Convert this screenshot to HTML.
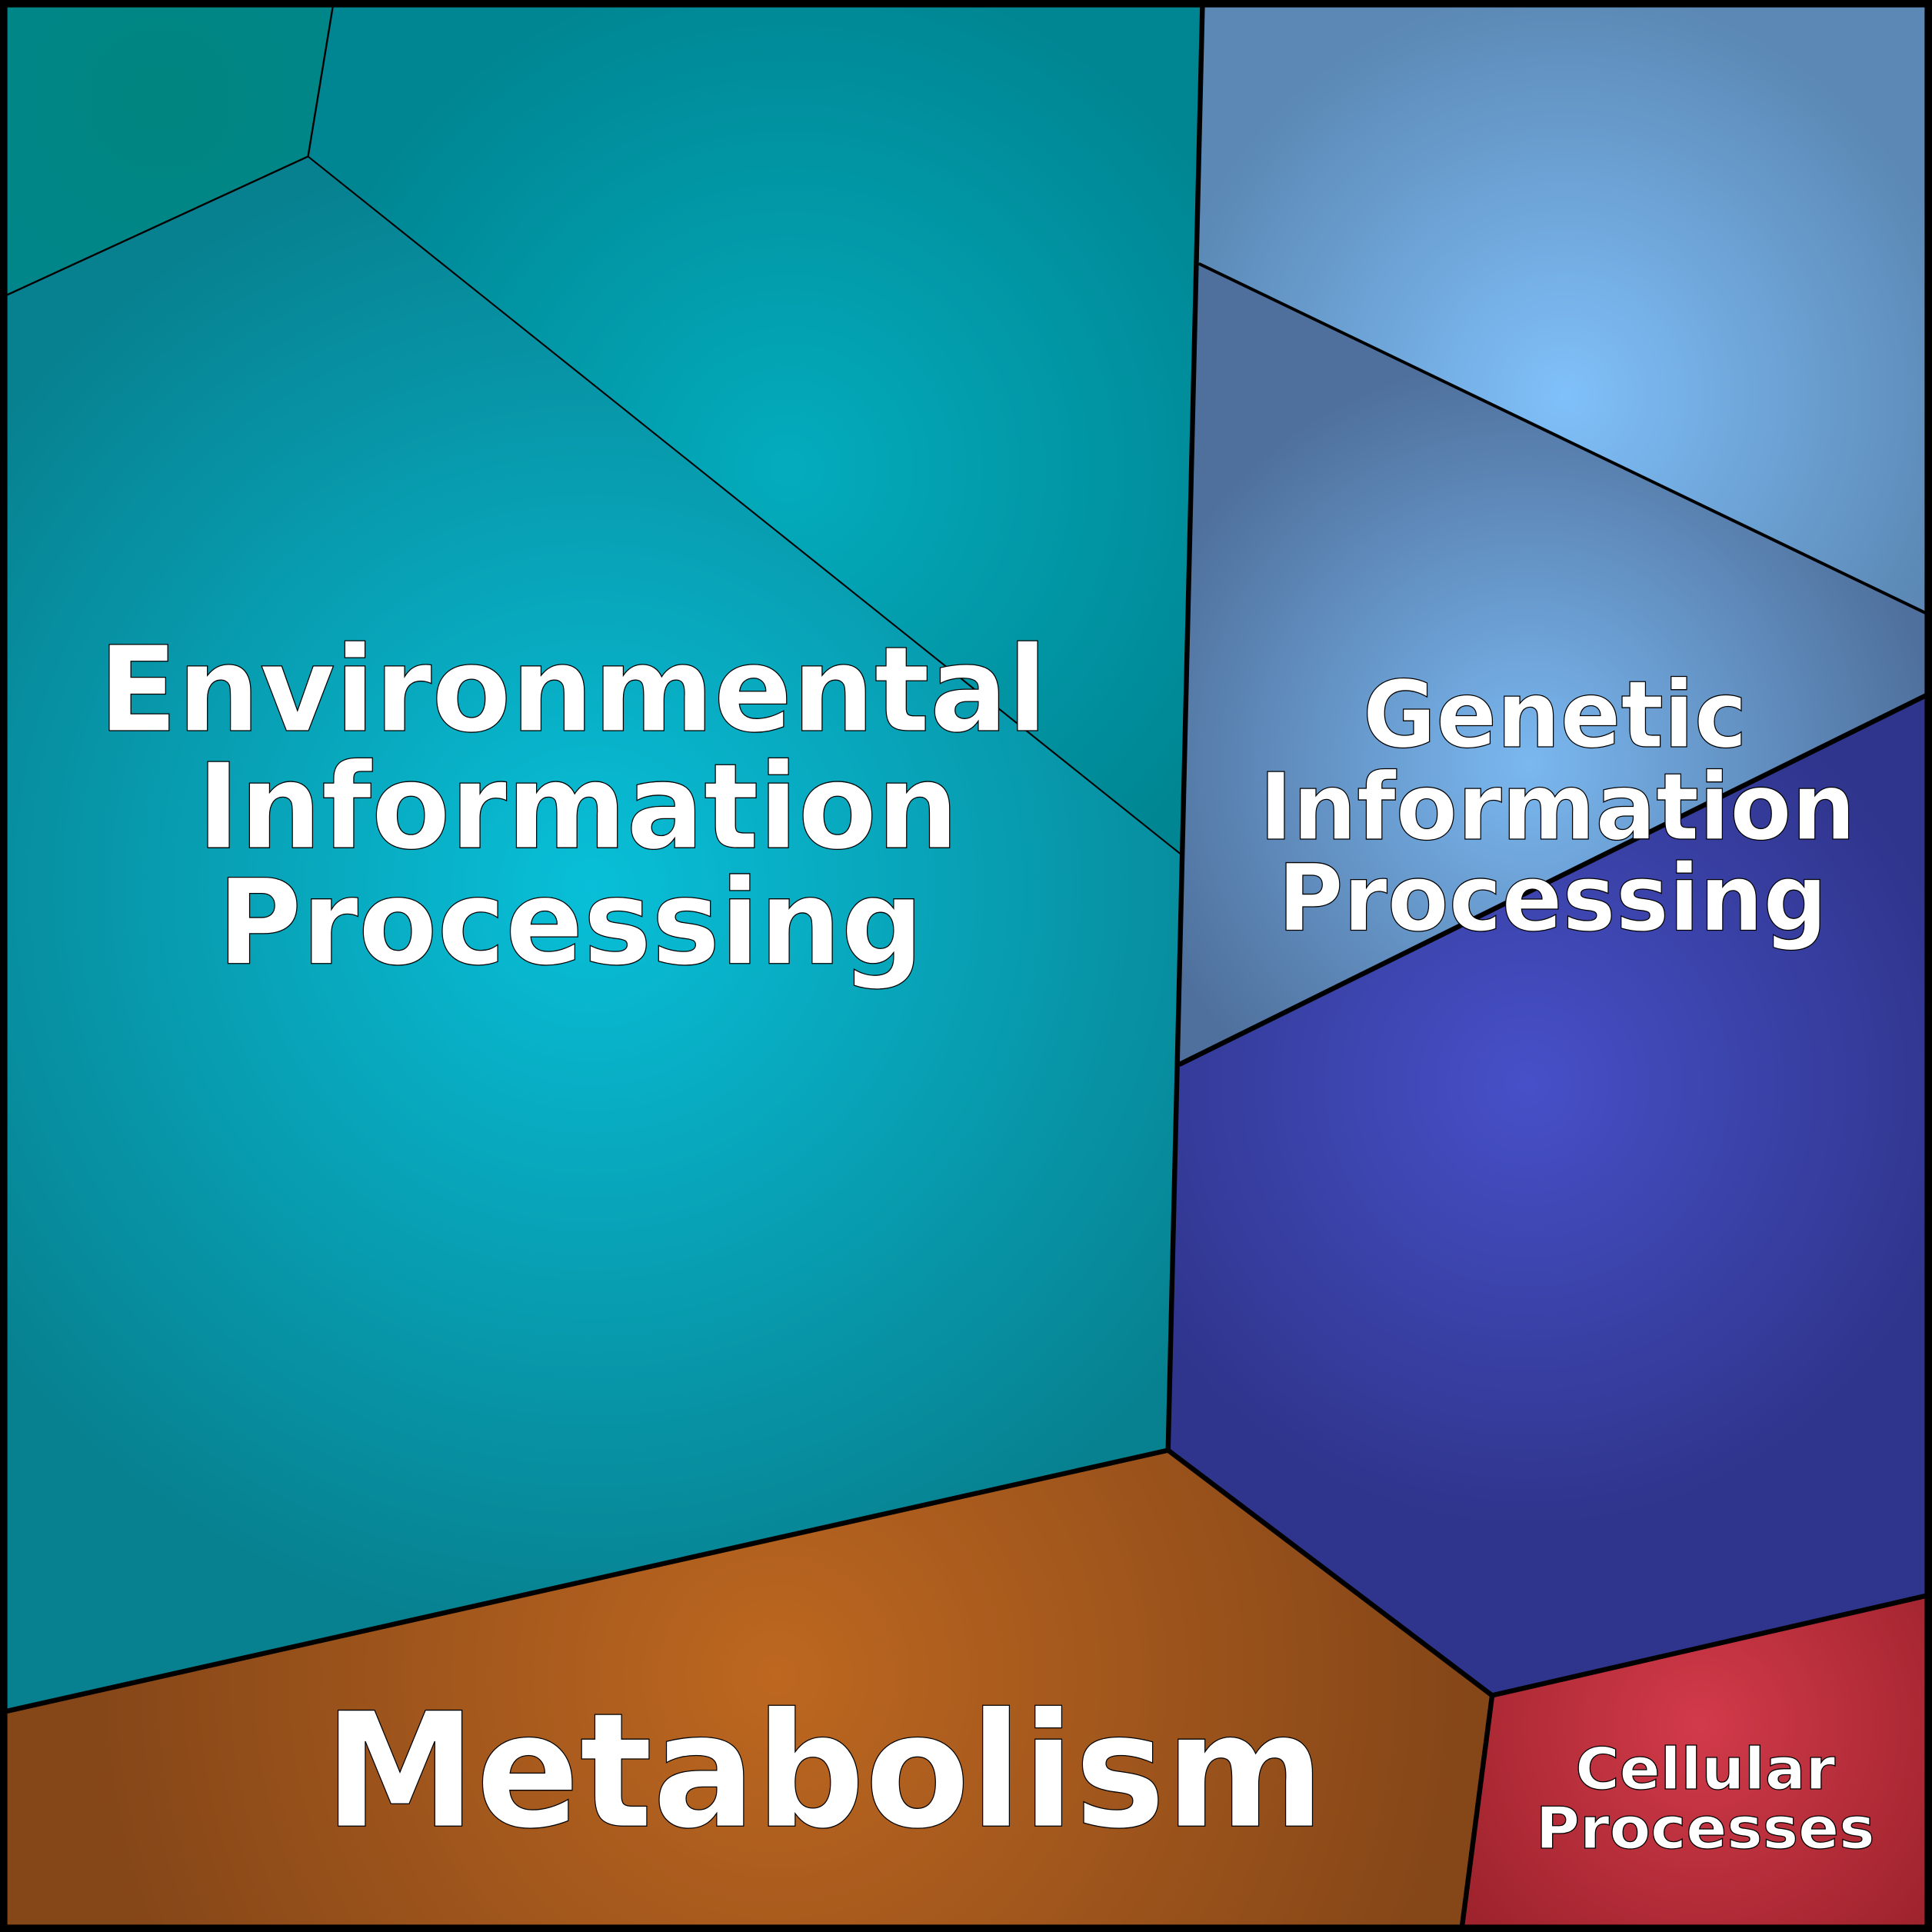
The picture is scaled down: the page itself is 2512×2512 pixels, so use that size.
<!DOCTYPE html>
<html><head><meta charset="utf-8"><style>html,body{margin:0;padding:0;background:#000}svg{display:block}</style></head>
<body>
<svg width="2512" height="2512" viewBox="0 0 1568 1568" xmlns="http://www.w3.org/2000/svg">
<defs>
<radialGradient id="env" gradientUnits="userSpaceOnUse" cx="480" cy="720" r="620"><stop offset="0" stop-color="#08bfd8"/><stop offset="1" stop-color="#07808f"/></radialGradient>
<radialGradient id="env2" gradientUnits="userSpaceOnUse" cx="640" cy="380" r="420"><stop offset="0" stop-color="#03acbd"/><stop offset="1" stop-color="#008592"/></radialGradient>
<radialGradient id="tl" gradientUnits="userSpaceOnUse" cx="130" cy="80" r="200"><stop offset="0" stop-color="#008580"/><stop offset="1" stop-color="#00868a"/></radialGradient>
<radialGradient id="gen1" gradientUnits="userSpaceOnUse" cx="1270" cy="320" r="330"><stop offset="0" stop-color="#80c0fa"/><stop offset="1" stop-color="#5b88b4"/></radialGradient>
<radialGradient id="gen2" gradientUnits="userSpaceOnUse" cx="1240" cy="620" r="330"><stop offset="0" stop-color="#7ab8f0"/><stop offset="1" stop-color="#4f709c"/></radialGradient>
<radialGradient id="blue" gradientUnits="userSpaceOnUse" cx="1240" cy="880" r="360"><stop offset="0" stop-color="#4750c8"/><stop offset="1" stop-color="#2f358c"/></radialGradient>
<radialGradient id="met" gradientUnits="userSpaceOnUse" cx="630" cy="1360" r="560"><stop offset="0" stop-color="#bd6720"/><stop offset="1" stop-color="#854618"/></radialGradient>
<radialGradient id="cel" gradientUnits="userSpaceOnUse" cx="1380" cy="1400" r="240"><stop offset="0" stop-color="#d23a4a"/><stop offset="1" stop-color="#9e232c"/></radialGradient>
</defs>
<rect width="1568" height="1568" fill="url(#env)"/>
<polygon points="250,127 271,0 976,0 958,693" fill="url(#env2)"/>
<polygon points="0,0 271,0 250,127 0,242" fill="url(#tl)" stroke="#000" stroke-width="1.5"/>
<polygon points="976,0 1568,0 1568,500 973,214" fill="url(#gen1)"/>
<polygon points="973,214 1568,500 1568,562 957,864" fill="url(#gen2)"/>
<polygon points="957,864 1568,562 1568,1294 1211,1376 948,1177" fill="url(#blue)"/>
<polygon points="0,1390 948,1177 1211,1376 1186,1568 0,1568" fill="url(#met)"/>
<polygon points="1211,1376 1568,1294 1568,1568 1186,1568" fill="url(#cel)"/>
<line x1="250" y1="127" x2="958" y2="693" stroke="#000" stroke-width="1.3"/>
<line x1="973" y1="214" x2="1568" y2="500" stroke="#000" stroke-width="2.5"/>
<g fill="none" stroke="#000" stroke-width="4" stroke-linejoin="round">
<polyline points="976,0 948,1177"/>
<polyline points="957,864 1568,562"/>
<polyline points="0,1390 948,1177 1211,1376 1568,1294"/>
<polyline points="1211,1376 1186,1568"/>
</g>
<rect x="3" y="3" width="1562" height="1562" fill="none" stroke="#000" stroke-width="6"/>
<g font-family="'DejaVu Sans','Liberation Sans',sans-serif" font-weight="bold" fill="#fff" stroke="#000" stroke-width="0.8" text-anchor="middle">
<text x="465" y="593" font-size="96" textLength="770" lengthAdjust="spacingAndGlyphs">Environmental</text>
<text x="469" y="688" font-size="96" textLength="618" lengthAdjust="spacingAndGlyphs">Information</text>
<text x="463" y="782" font-size="96" textLength="573" lengthAdjust="spacingAndGlyphs">Processing</text>
<text x="1262" y="606" font-size="75" textLength="312" lengthAdjust="spacingAndGlyphs">Genetic</text>
<text x="1264" y="681" font-size="75" textLength="484" lengthAdjust="spacingAndGlyphs">Information</text>
<text x="1260" y="755" font-size="75" textLength="446" lengthAdjust="spacingAndGlyphs">Processing</text>
<text x="669" y="1482" font-size="129" textLength="812" lengthAdjust="spacingAndGlyphs">Metabolism</text>
<text x="1384" y="1452" font-size="47" textLength="211" lengthAdjust="spacingAndGlyphs">Cellular</text>
<text x="1384" y="1500" font-size="47" textLength="275" lengthAdjust="spacingAndGlyphs">Processes</text>
</g>
</svg>
</body></html>
